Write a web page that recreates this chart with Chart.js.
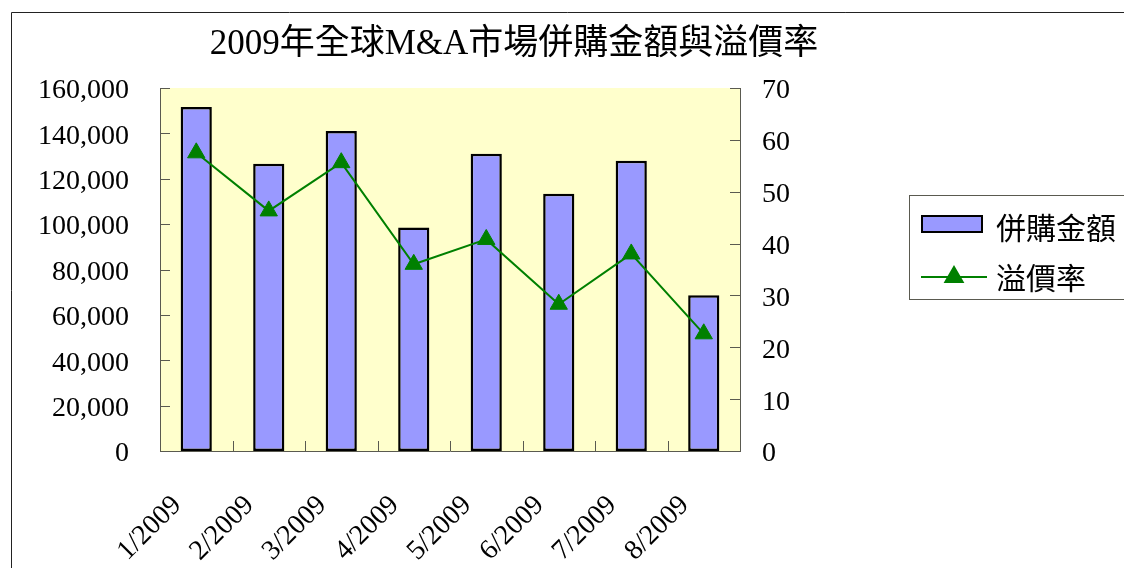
<!DOCTYPE html>
<html>
<head>
<meta charset="utf-8">
<script src="https://cdn.jsdelivr.net/npm/chart.js@4.4.0/dist/chart.umd.min.js"></script>
<style>
  html, body { margin: 0; padding: 0; background: #fff; overflow: hidden; }
  canvas { display: block; }
</style>
</head>
<body>
<canvas id="chart" width="1124" height="568"></canvas>
<script>
// Monthly global M&A deal value and average premium, 2009
const months = ['1/2009', '2/2009', '3/2009', '4/2009', '5/2009', '6/2009', '7/2009', '8/2009'];
const dealValue = [151600, 126600, 141100, 98500, 131000, 113400, 127900, 68600];
const premium = [57.5, 46.3, 55.6, 36.0, 40.8, 28.3, 38.0, 22.6];
const valueTicks = [0, 20000, 40000, 60000, 80000, 100000, 120000, 140000, 160000];
const premiumTicks = [0, 10, 20, 30, 40, 50, 60, 70];
const chartTitle = '2009年全球M&A市場併購金額與溢價率';
const seriesNames = ['併購金額', '溢價率'];

const SERIF = "'Liberation Serif', 'Noto Sans CJK TC', serif";
const CJK = "'Noto Sans CJK TC', 'Noto Sans CJK SC', sans-serif";
const BAR_FILL = '#9999FF';
const LINE_GREEN = '#008000';
const AXIS_GREY = '#5a5a50';

// Inward tick marks, plot background, outer frame, title and boxed legend
const decor = {
  id: 'decor',
  beforeDraw(chart) {
    const { ctx, chartArea: a } = chart;
    ctx.save();
    ctx.fillStyle = '#ffffff';
    ctx.fillRect(0, 0, chart.width, chart.height);
    ctx.fillStyle = '#FFFFCC';
    ctx.fillRect(a.left, a.top, a.right - a.left, a.bottom - a.top);
    ctx.restore();
  },
  beforeDatasetsDraw(chart) {
    const { ctx, chartArea: a, scales } = chart;
    ctx.save();
    ctx.strokeStyle = AXIS_GREY;
    ctx.lineWidth = 1;
    ctx.beginPath();
    scales.y.ticks.forEach(t => {
      const py = Math.round(scales.y.getPixelForValue(t.value)) + 0.5;
      ctx.moveTo(a.left, py); ctx.lineTo(a.left + 10, py);
    });
    scales.y1.ticks.forEach(t => {
      const py = Math.round(scales.y1.getPixelForValue(t.value)) + 0.5;
      ctx.moveTo(a.right - 10, py); ctx.lineTo(a.right, py);
    });
    for (let i = 1; i < months.length; i++) {
      const px = Math.round(scales.x.getPixelForValue(i - 0.5)) + 0.5;
      ctx.moveTo(px, a.bottom); ctx.lineTo(px, a.bottom - 10);
    }
    ctx.stroke();
    ctx.restore();
  },
  afterDraw(chart) {
    const { ctx } = chart;
    ctx.save();
    // outer frame
    ctx.strokeStyle = '#222';
    ctx.lineWidth = 1;
    ctx.beginPath();
    ctx.moveTo(11.5, chart.height);
    ctx.lineTo(11.5, 12.5);
    ctx.lineTo(chart.width, 12.5);
    ctx.stroke();

    // title
    ctx.fillStyle = '#000';
    ctx.font = '35px ' + SERIF;
    ctx.textAlign = 'center';
    ctx.textBaseline = 'alphabetic';
    ctx.fillText(chartTitle, 514, 54);

    // legend box
    ctx.strokeStyle = AXIS_GREY;
    ctx.lineWidth = 1;
    ctx.strokeRect(909.5, 195.5, 230, 104);

    const ds = chart.data.datasets;
    // bar swatch
    ctx.fillStyle = ds[0].backgroundColor;
    ctx.fillRect(921, 215, 62, 18);
    ctx.strokeStyle = '#000';
    ctx.lineWidth = 2;
    ctx.strokeRect(922, 216, 60, 16);
    // line swatch
    ctx.strokeStyle = ds[1].borderColor;
    ctx.lineWidth = 2;
    ctx.beginPath();
    ctx.moveTo(921, 277); ctx.lineTo(987, 277);
    ctx.stroke();
    Chart.helpers.drawPoint(ctx, { pointStyle: 'triangle', radius: 10, rotation: 0, borderWidth: 1 }, 954, 277);
    ctx.fillStyle = ds[1].pointBackgroundColor;
    ctx.fill();

    ctx.fillStyle = '#000';
    ctx.font = '30px ' + CJK;
    ctx.textAlign = 'left';
    ctx.textBaseline = 'middle';
    ctx.fillText(ds[0].label, 996, 228);
    ctx.fillText(ds[1].label, 996, 278);
    ctx.restore();
  }
};

new Chart(document.getElementById('chart'), {
  data: {
    labels: months,
    datasets: [
      {
        type: 'bar',
        label: seriesNames[0],
        data: dealValue,
        yAxisID: 'y',
        backgroundColor: BAR_FILL,
        borderColor: '#000',
        borderWidth: 2.5,
        borderSkipped: false,
        categoryPercentage: 1,
        barPercentage: 0.43,
        order: 2
      },
      {
        type: 'line',
        label: seriesNames[1],
        data: premium,
        yAxisID: 'y1',
        borderColor: LINE_GREEN,
        backgroundColor: LINE_GREEN,
        borderWidth: 2,
        tension: 0,
        pointStyle: 'triangle',
        pointRadius: 10,
        pointBackgroundColor: LINE_GREEN,
        pointBorderColor: LINE_GREEN,
        pointBorderWidth: 1,
        order: 1
      }
    ]
  },
  options: {
    responsive: false,
    animation: false,
    devicePixelRatio: 1,
    layout: { padding: { top: 88, left: 0, right: 0, bottom: 0 } },
    plugins: {
      legend: { display: false },
      title: { display: false },
      tooltip: { enabled: false }
    },
    scales: {
      x: {
        offset: true,
        grid: { display: false, drawTicks: false },
        border: { display: true, color: AXIS_GREY, width: 1 },
        ticks: {
          autoSkip: false,
          maxRotation: 45,
          minRotation: 45,
          padding: 38,
          labelOffset: -19,
          color: '#000',
          font: { family: SERIF, size: 28 }
        },
        afterFit(s) { s.height = 117; }
      },
      y: {
        position: 'left',
        min: 0,
        max: 160000,
        grid: { display: false, drawTicks: false },
        border: { display: true, color: AXIS_GREY, width: 1 },
        afterBuildTicks(s) { s.ticks = valueTicks.map(v => ({ value: v })); },
        ticks: {
          padding: 31,
          labelOffset: 3,
          color: '#000',
          font: { family: SERIF, size: 28 },
          callback: v => v.toLocaleString('en-US')
        },
        afterFit(s) { s.width = 160; }
      },
      y1: {
        position: 'right',
        min: 0,
        max: 70,
        grid: { display: false, drawTicks: false },
        border: { display: true, color: AXIS_GREY, width: 1 },
        afterBuildTicks(s) { s.ticks = premiumTicks.map(v => ({ value: v })); },
        ticks: {
          padding: 22,
          labelOffset: 3,
          color: '#000',
          font: { family: SERIF, size: 28 }
        },
        afterFit(s) { s.width = 384; }
      }
    }
  },
  plugins: [decor]
});
</script>
</body>
</html>
